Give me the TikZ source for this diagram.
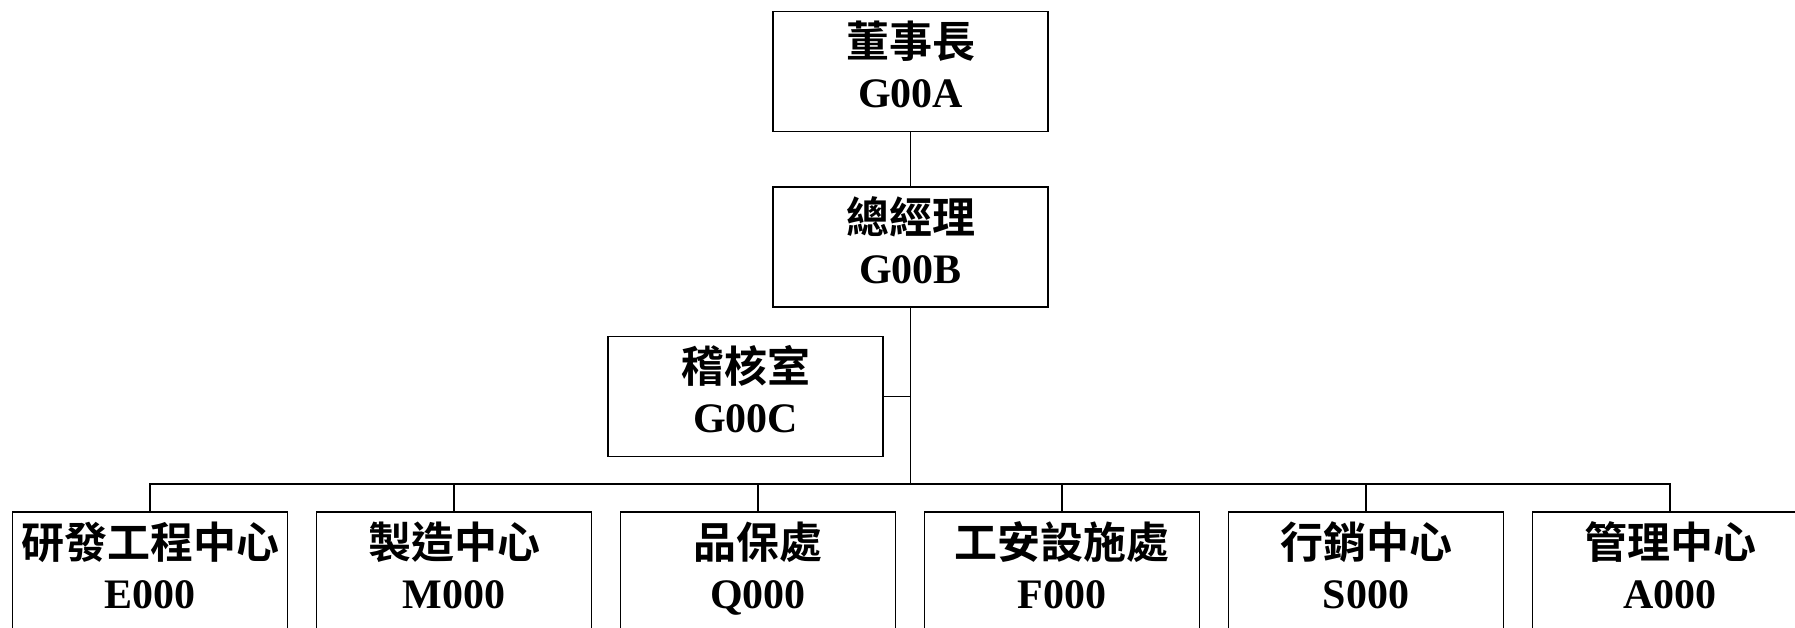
\documentclass[tikz,border=0pt]{standalone}
\usepackage{fontspec}
\setmainfont{Liberation Serif}
\newfontfamily\cjk{Noto Sans CJK TC}[BoldFont={Noto Sans CJK TC Bold}]
\usetikzlibrary{calc}
\tikzset{
  orgbox/.style={draw=black, line width=1.8pt, minimum width=275pt, minimum height=120pt, inner sep=0pt, fill=white},
  cjktext/.style={anchor=base, inner sep=0pt, font=\cjk\bfseries\fontsize{43}{47}\selectfont},
  codetext/.style={anchor=base, inner sep=0pt, font=\bfseries\fontsize{42}{46}\selectfont},
  conn/.style={draw=black, line width=1.8pt},
}
\newcommand{\orgunit}[5]{%
  \node[orgbox] (#1) at (#2,#3+60) {};
  \node[cjktext] (#1t) at ($(#1.north)+(0,47)$) {#4};
  \node[codetext] (#1c) at ($(#1.north)+(0,97)$) {#5};
}
\begin{document}
\begin{tikzpicture}[x=1pt,y=-1pt]
\useasboundingbox (0,0) rectangle (1795,628);
\clip (0,0) rectangle (1795,628);
\fill[white] (0,0) rectangle (1795,628);
\orgunit{a}{910.5}{11.5}{董事長}{G00A}
\orgunit{b}{910.5}{187}{總經理}{G00B}
\orgunit{c}{745.5}{336.5}{稽核室}{G00C}
\orgunit{e}{150}{512}{研發工程中心}{E000}
\orgunit{m}{454}{512}{製造中心}{M000}
\orgunit{q}{758}{512}{品保處}{Q000}
\orgunit{f}{1062}{512}{工安設施處}{F000}
\orgunit{s}{1366}{512}{行銷中心}{S000}
\orgunit{g}{1670}{512}{管理中心}{A000}
\coordinate (bus) at (910.5,484);
\draw[conn] (a.south) -- (b.north);
\draw[conn] (b.south) -- (bus);
\draw[conn] (c.east) -- (c.east -| b.south);
\foreach \n in {e,m,q,f,s,g}{
  \draw[conn] (\n.north) |- (bus);
}
\end{tikzpicture}
\end{document}
